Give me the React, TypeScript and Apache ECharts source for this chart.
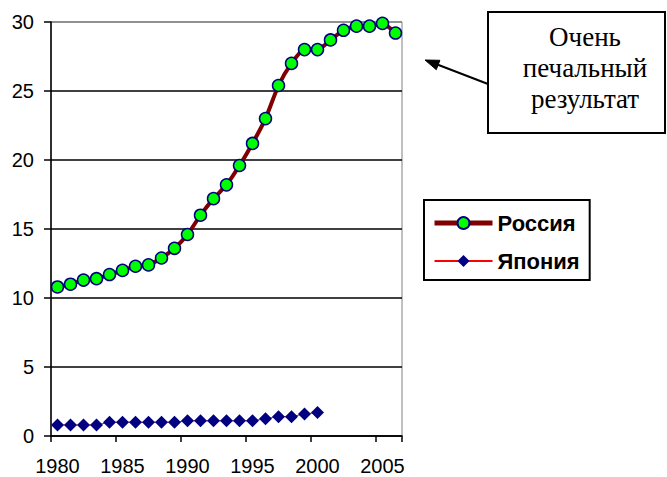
import React, { useEffect, useRef } from "react";
import * as echarts from "echarts";

const years: string[] = [
  "1980", "1981", "1982", "1983", "1984", "1985", "1986", "1987", "1988", "1989",
  "1990", "1991", "1992", "1993", "1994", "1995", "1996", "1997", "1998", "1999",
  "2000", "2001", "2002", "2003", "2004", "2005", "2006",
];

const russia: number[] = [
  10.8, 11.0, 11.3, 11.4, 11.7, 12.0, 12.3, 12.4, 12.9, 13.6,
  14.6, 16.0, 17.2, 18.2, 19.6, 21.2, 23.0, 25.4, 27.0, 28.0,
  28.0, 28.7, 29.4, 29.7, 29.7, 29.9, 29.2,
];

const japan: number[] = [
  0.8, 0.8, 0.8, 0.8, 1.0, 1.0, 1.0, 1.0, 1.0, 1.0,
  1.1, 1.1, 1.1, 1.1, 1.1, 1.1, 1.25, 1.4, 1.4, 1.6,
  1.7,
];

const yTicks = { min: 0, max: 30, interval: 5 };
const seriesNames = ["Россия", "Япония"];
const noteLines = ["Очень", "печальный", "результат"];

export default function App() {
  const ref = useRef<HTMLDivElement>(null);
  useEffect(() => {
    if (!ref.current) return;
    const chart = echarts.init(ref.current, null, { renderer: "svg" });
    const font = "Arial, 'Liberation Sans', sans-serif";
    chart.setOption({
      animation: false,
      backgroundColor: "#ffffff",
      textStyle: { fontFamily: font },
      grid: {
        left: 51,
        right: 265,
        top: 22,
        bottom: 41,
        show: true,
        borderColor: "#808080",
        borderWidth: 1,
        backgroundColor: "transparent",
      },
      xAxis: {
        type: "category",
        data: years,
        boundaryGap: true,
        axisLine: { lineStyle: { color: "#000", width: 1.5 } },
        axisTick: {
          show: true,
          interval: 4,
          length: 6,
          lineStyle: { color: "#000", width: 1.5 },
        },
        axisLabel: {
          interval: 4,
          color: "#000",
          fontSize: 20,
          fontFamily: font,
          margin: 20,
        },
        splitLine: { show: false },
      },
      yAxis: {
        type: "value",
        min: yTicks.min,
        max: yTicks.max,
        interval: yTicks.interval,
        axisLine: { show: true, lineStyle: { color: "#000", width: 1.5 } },
        axisTick: { show: true, length: 7, lineStyle: { color: "#000", width: 1.5 } },
        axisLabel: { color: "#000", fontSize: 20, fontFamily: font, margin: 17 },
        splitLine: {
          show: true,
          lineStyle: {
            color: ["#000", "#000", "#000", "#000", "#000", "#000", "#808080"],
            width: 1.5,
          },
        },
      },
      legend: {
        orient: "vertical",
        left: 424,
        top: 200,
        data: [
          { name: seriesNames[0], lineStyle: { width: 5, color: "#800000" } },
          { name: seriesNames[1], lineStyle: { width: 2, color: "#ff0000" } },
        ],
        itemWidth: 58,
        itemHeight: 15,
        itemGap: 16,
        padding: [12, 10, 8, 8],
        borderColor: "#000",
        borderWidth: 2,
        backgroundColor: "#fff",
        textStyle: { color: "#000", fontSize: 22, fontWeight: "bold", fontFamily: font },
      },
      series: [
        {
          name: seriesNames[0],
          type: "line",
          data: russia,
          smooth: 0.2,
          showAllSymbol: true,
          lineStyle: { color: "#800000", width: 4 },
          itemStyle: { color: "#00ff00", borderColor: "#000080", borderWidth: 1.5 },
          symbol: "circle",
          symbolSize: 12,
          z: 3,
        },
        {
          name: seriesNames[1],
          type: "line",
          data: japan,
          showAllSymbol: true,
          lineStyle: { color: "#ff0000", width: 1 },
          itemStyle: { color: "#000080", borderColor: "#000080", borderWidth: 0 },
          symbol: "diamond",
          symbolSize: 13,
          z: 2,
        },
      ],
      graphic: [
        {
          type: "line",
          shape: { x1: 488, y1: 84, x2: 436, y2: 64 },
          style: { stroke: "#000", lineWidth: 2 },
        },
        {
          type: "polygon",
          shape: { points: [[425, 60], [436.3, 69.7], [439.9, 60.3]] },
          style: { fill: "#000", stroke: "#000", lineWidth: 1 },
        },
        {
          type: "rect",
          shape: { x: 488, y: 12, width: 177, height: 121 },
          style: { fill: "#fff", stroke: "#000", lineWidth: 2 },
        },
        {
          type: "text",
          x: 585,
          y: 21,
          style: {
            text: noteLines.join("\n"),
            fill: "#000",
            font: "27px 'Liberation Serif', 'Times New Roman', serif",
            lineHeight: 31,
            align: "center",
            verticalAlign: "top",
          },
        },
      ],
    });
    return () => chart.dispose();
  }, []);
  return <div ref={ref} style={{ width: 667, height: 477, position: "absolute", left: 0, top: 0 }} />;
}
